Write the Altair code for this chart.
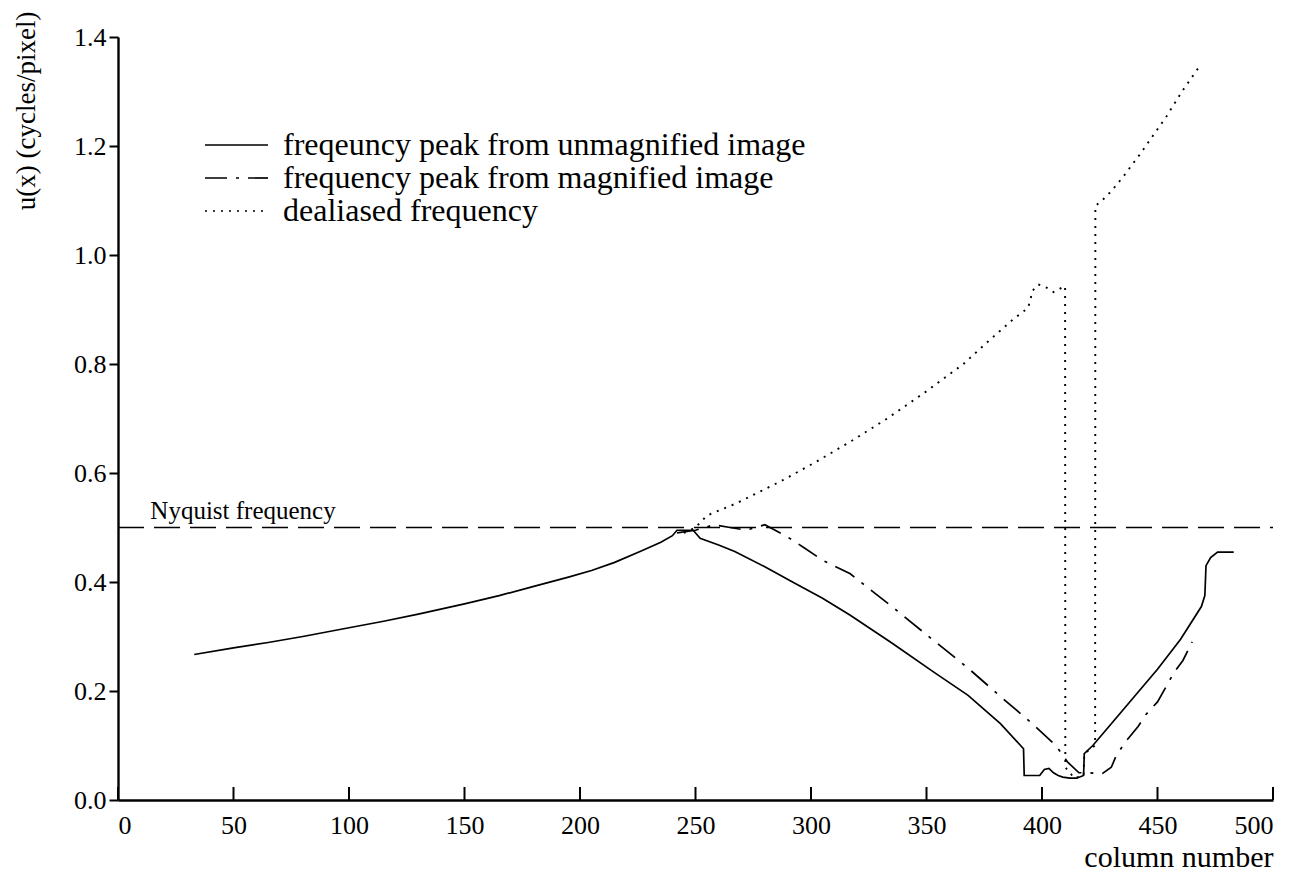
import altair as alt
import pandas as pd

# ---- data ----
# frequency peak from unmagnified image (solid)
un_x = [33, 50, 65, 80, 100, 115, 130, 150, 165, 180, 195, 205, 215, 226, 235, 240, 242, 249, 252,
        260, 267, 280, 292, 305, 317, 335, 353, 368, 382, 392, 392.3, 396, 399, 401, 403, 405, 407,
        409, 412, 415, 418, 418.3, 422, 430, 440, 450, 460, 469, 470.5, 471, 473, 476, 483]
un_y = [0.267, 0.279, 0.289, 0.300, 0.316, 0.328, 0.341, 0.360, 0.375, 0.392, 0.409, 0.421,
        0.436, 0.456, 0.473, 0.485, 0.495, 0.495, 0.480, 0.468, 0.456, 0.428, 0.400, 0.370,
        0.339, 0.288, 0.235, 0.192, 0.140, 0.094, 0.045, 0.045, 0.045, 0.056, 0.058, 0.050,
        0.045, 0.042, 0.040, 0.040, 0.045, 0.085, 0.100, 0.140, 0.190, 0.240, 0.295, 0.355,
        0.375, 0.430, 0.445, 0.455, 0.455]

# frequency peak from magnified image (dash-dot)
mag_x = [242, 250, 258, 265, 272, 280, 289, 297, 305, 317, 335, 353, 368, 382, 395, 406, 411,
         416, 420, 426, 430, 432, 436, 441.6, 445, 450, 454, 457, 461, 465]
mag_y = [0.490, 0.495, 0.505, 0.500, 0.495, 0.505, 0.485, 0.463, 0.440, 0.415, 0.355, 0.293,
         0.242, 0.190, 0.143, 0.100, 0.070, 0.050, 0.050, 0.048, 0.060, 0.080, 0.106, 0.135,
         0.157, 0.180, 0.210, 0.233, 0.256, 0.290]

# dealiased frequency (dotted)
de_x = [245, 250, 255, 268, 287, 302, 318, 333, 350, 366, 375, 387.5, 394, 395, 396, 398.4, 402,
        405, 408.5, 410, 410.1, 414, 418, 418.3, 423, 423.1, 427, 430.2, 435.2, 442.6, 454, 460.6,
        468.8]
de_y = [0.490, 0.500, 0.522, 0.545, 0.585, 0.620, 0.660, 0.700, 0.750, 0.800, 0.835, 0.882,
        0.903, 0.919, 0.935, 0.946, 0.940, 0.932, 0.940, 0.943, 0.060, 0.040, 0.045, 0.085,
        0.100, 1.090, 1.104, 1.118, 1.144, 1.186, 1.255, 1.300, 1.350]

nyquist = 0.5
x_ticks = [0, 50, 100, 150, 200, 250, 300, 350, 400, 450, 500]
y_ticks = [0.0, 0.2, 0.4, 0.6, 0.8, 1.0, 1.2, 1.4]
legend_labels = ["freqeuncy peak from unmagnified image",
                 "frequency peak from magnified image",
                 "dealiased frequency"]

FONT = "Liberation Serif"
W, H = 1155, 763

xs = alt.Scale(domain=[0, 500], nice=False, zero=False)
ys = alt.Scale(domain=[0, 1.4], nice=False)


def series(xv, yv):
    return pd.DataFrame({"x": xv, "y": yv, "i": list(range(len(xv)))})


x_enc = alt.X("x:Q", scale=xs,
              axis=alt.Axis(values=x_ticks, tickSize=0, labelPadding=12, labelFontSize=26,
                            title="column number", titleFontSize=30, titleFontWeight="normal",
                            titleX=W, titleY=66, titleAlign="right", titleBaseline="alphabetic"))
y_enc = alt.Y("y:Q", scale=ys,
              axis=alt.Axis(values=y_ticks, format=".1f", tickSize=9, labelPadding=3,
                            labelFontSize=26, title="u(x) (cycles/pixel)", titleFontSize=27,
                            titleFontWeight="normal", titleX=-92, titleY=-26,
                            titleAlign="right", titleBaseline="middle"))

solid = alt.Chart(series(un_x, un_y)).mark_line(
    color="black", strokeWidth=1.7).encode(x=x_enc, y=y_enc, order="i:Q")
dashdot = alt.Chart(series(mag_x, mag_y)).mark_line(
    color="black", strokeWidth=1.7, strokeDash=[22, 9, 3, 9]).encode(
    x=alt.X("x:Q", scale=xs), y=alt.Y("y:Q", scale=ys), order="i:Q")
dotted = alt.Chart(series(de_x, de_y)).mark_line(
    color="black", strokeWidth=1.9, strokeDash=[2, 6]).encode(
    x=alt.X("x:Q", scale=xs), y=alt.Y("y:Q", scale=ys), order="i:Q")

nyq_df = pd.DataFrame({"x": [x_ticks[0]], "x2": [x_ticks[-1]], "y": [nyquist],
                       "label": ["Nyquist frequency"], "lx": [14]})
nyq_line = alt.Chart(nyq_df).mark_rule(color="black", strokeWidth=1.7, strokeDash=[26, 10]).encode(
    x=alt.X("x:Q", scale=xs), x2="x2:Q", y=alt.Y("y:Q", scale=ys))
nyq_text = alt.Chart(nyq_df).mark_text(font=FONT, fontSize=25, align="left", baseline="alphabetic",
                                       dy=-9, color="black").encode(
    x=alt.X("lx:Q", scale=xs), y=alt.Y("y:Q", scale=ys), text="label:N")

tick_df = pd.DataFrame({"t": x_ticks})
x_tick_marks = alt.Chart(tick_df).mark_rule(color="black", strokeWidth=2).encode(
    x=alt.X("t:Q", scale=xs), y=alt.value(H), y2=alt.value(H - 13))

# manual legend
styles = [[1, 0], [22, 9, 3, 9], [2, 6]]
layers_leg = []
for k, lab in enumerate(legend_labels):
    ypix = 108 + 33 * k
    d = pd.DataFrame({"label": [lab]})
    layers_leg.append(alt.Chart(d).mark_rule(color="black", strokeWidth=1.7,
                                             strokeDash=styles[k]).encode(
        x=alt.value(87), x2=alt.value(150), y=alt.value(ypix)))
    layers_leg.append(alt.Chart(d).mark_text(font=FONT, fontSize=32, align="left",
                                             baseline="middle", color="black").encode(
        x=alt.value(165), y=alt.value(ypix), text="label:N"))

chart = alt.layer(solid, dashdot, dotted, nyq_line, nyq_text, x_tick_marks, *layers_leg).properties(
    width=W, height=H,
    padding={"left": 110, "top": 29, "right": 24, "bottom": 77},
    autosize=alt.AutoSizeParams(type="none"),
    background="white",
).configure_view(stroke=None).configure_axis(
    grid=False, domainColor="black", domainWidth=2.4, tickColor="black", tickWidth=2,
    labelColor="black", titleColor="black", labelFont=FONT, titleFont=FONT,
)

chart.save("out.html", embed_options={"renderer": "svg", "actions": False})
